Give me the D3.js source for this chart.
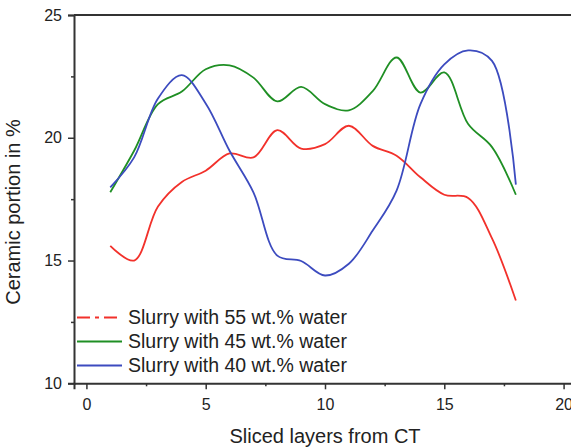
<!DOCTYPE html>
<html>
<head>
<meta charset="utf-8">
<script src="https://cdn.jsdelivr.net/npm/d3@7"></script>
<style>
  html, body { margin: 0; padding: 0; background: #fff; }
  svg { display: block; font-family: "Liberation Sans", Arial, sans-serif; }
</style>
</head>
<body>
<svg id="chart" width="571" height="447"></svg>
<script>
// Slice index along the CT scan
const layers = [1, 2, 3, 4, 5, 6, 7, 8, 9, 10, 11, 12, 13, 14, 15, 16, 17, 18];

// Ceramic portion (%) per slice for each slurry
const water55 = [15.6, 15.0, 17.2, 18.2, 18.66, 19.36, 19.2, 20.31, 19.56, 19.74, 20.49, 19.67, 19.27, 18.39, 17.68, 17.55, 15.9, 13.37];
const water45 = [17.78, 19.47, 21.37, 21.88, 22.79, 22.95, 22.45, 21.48, 22.07, 21.37, 21.12, 21.9, 23.27, 21.84, 22.66, 20.56, 19.62, 17.68];
const water40 = [17.98, 19.2, 21.6, 22.55, 21.4, 19.47, 17.78, 15.2, 14.98, 14.39, 14.87, 16.22, 17.85, 21.37, 22.99, 23.56, 23.13, 18.09];

const seriesNames = ["Slurry with 55 wt.% water", "Slurry with 45 wt.% water", "Slurry with 40 wt.% water"];
const seriesColors = ["#f2312b", "#1f8f24", "#3c4bbf"];

const xTicks = [0, 5, 10, 15, 20];
const yTicks = [10, 15, 20, 25];

const svg = d3.select("#chart");

const x = d3.scaleLinear().domain([-0.52, 20.52]).range([74, 576]);
const y = d3.scaleLinear().domain([10, 25]).range([383.3, 15]);

const axisColor = "#333";
const textColor = "#222";

// frame: top edge
svg.append("line")
  .attr("x1", x.range()[0]).attr("x2", x.range()[1])
  .attr("y1", y(25)).attr("y2", y(25))
  .attr("stroke", axisColor).attr("stroke-width", 2);

// bottom axis with minor ticks
svg.append("g").attr("transform", `translate(0,${y(10)})`)
  .call(d3.axisBottom(x).tickValues(xTicks).tickFormat(d3.format("d")).tickSize(6).tickPadding(9));
svg.append("g").attr("transform", `translate(0,${y(10)})`)
  .call(d3.axisBottom(x).tickValues([2.5, 7.5, 12.5, 17.5]).tickFormat("").tickSize(3))
  .call(g => g.select(".domain").remove());

// left axis with minor ticks
svg.append("g").attr("transform", `translate(${x.range()[0]},0)`)
  .call(d3.axisLeft(y).tickValues(yTicks).tickFormat(d3.format("d")).tickSize(6).tickPadding(6));
svg.append("g").attr("transform", `translate(${x.range()[0]},0)`)
  .call(d3.axisLeft(y).tickValues([12.5, 17.5, 22.5]).tickFormat("").tickSize(3))
  .call(g => g.select(".domain").remove());

svg.selectAll(".domain").attr("stroke", axisColor).attr("stroke-width", 2);
svg.selectAll(".tick line").attr("stroke", axisColor).attr("stroke-width", 1.5);
svg.selectAll(".tick text").attr("fill", textColor).attr("font-size", 16)
  .attr("font-family", "'Liberation Sans', Arial, sans-serif");

// axis titles
svg.append("text")
  .attr("x", 325).attr("y", 442.5)
  .attr("text-anchor", "middle")
  .attr("font-size", 20).attr("fill", textColor)
  .text("Sliced layers from CT");

svg.append("text")
  .attr("transform", `translate(19.5,212) rotate(-90)`)
  .attr("text-anchor", "middle")
  .attr("font-size", 20).attr("fill", textColor)
  .text("Ceramic portion in %");

// series curves
const line = d3.line()
  .x((d, i) => x(layers[i]))
  .y(d => y(d))
  .curve(d3.curveCatmullRom.alpha(0.5));

const allSeries = [water55, water45, water40];
svg.append("g").selectAll("path")
  .data(allSeries)
  .join("path")
  .attr("d", d => line(d))
  .attr("fill", "none")
  .attr("stroke", (d, i) => seriesColors[i])
  .attr("stroke-width", 1.8);

// legend
const legend = svg.append("g");
const rowY = [317.5, 341.5, 365.5];
seriesNames.forEach((name, i) => {
  legend.append("line")
    .attr("x1", 77).attr("x2", 122)
    .attr("y1", rowY[i]).attr("y2", rowY[i])
    .attr("stroke", seriesColors[i])
    .attr("stroke-width", 1.8)
    .attr("stroke-dasharray", i === 0 ? "13,5,4,5" : null);
  legend.append("text")
    .attr("x", 128).attr("y", rowY[i])
    .attr("dy", "0.35em")
    .attr("font-size", 19.5).attr("fill", textColor)
    .text(name);
});
</script>
</body>
</html>
